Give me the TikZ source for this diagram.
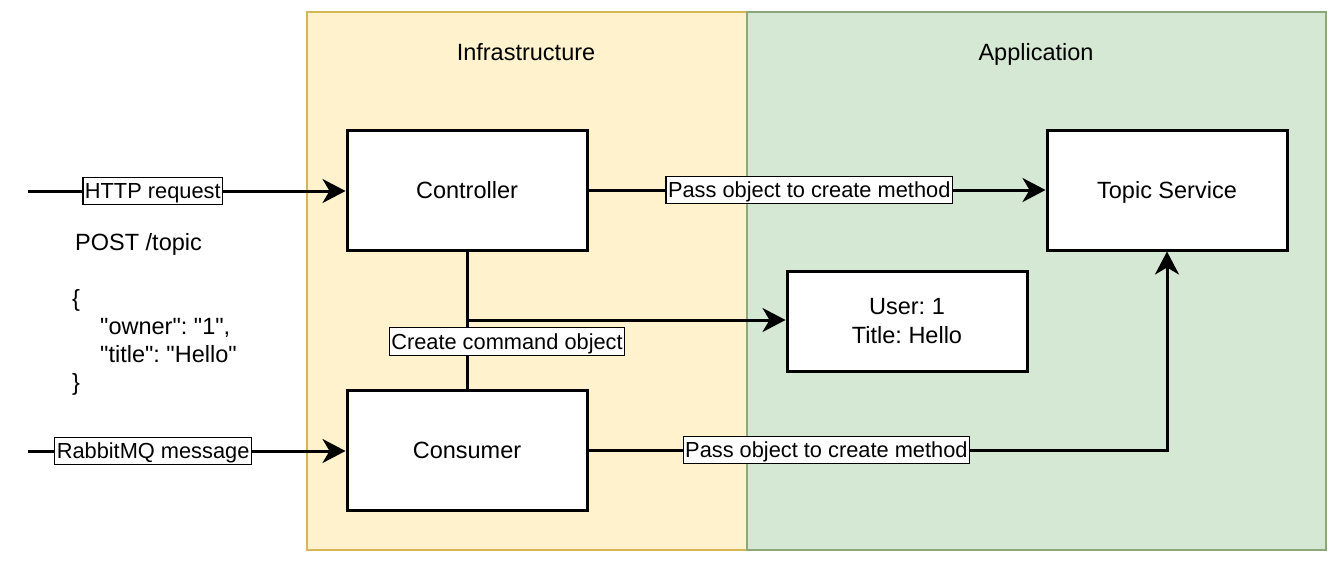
\documentclass[tikz,border=0pt]{standalone}
\usepackage{fontspec}
\setmainfont{Liberation Sans}
\newfontfamily\jsonfont{Liberation Sans}[Ligatures=TeXOff]
\usetikzlibrary{arrows.meta,calc}
\frenchspacing
\definecolor{infrafill}{HTML}{FFF2CC}
\definecolor{infradraw}{HTML}{D6B656}
\definecolor{appfill}{HTML}{D5E8D4}
\definecolor{appdraw}{HTML}{8BA87A}
\tikzset{
  mainfont/.style={font=\fontsize{23.5}{28}\selectfont},
  box/.style={draw=black, line width=3pt, fill=white, minimum width=240pt,
    minimum height=120pt, inner sep=0pt, mainfont, text height=16.8pt, text depth=0pt},
  ubox/.style={draw=black, line width=3pt, fill=white, minimum width=240pt,
    minimum height=100pt, inner sep=0pt, align=center, font=\fontsize{23.5}{29}\selectfont},
  lbl/.style={draw=black, line width=1.2pt, fill=white, inner xsep=2pt, inner ysep=1.5pt,
    font=\fontsize{21.8}{26}\selectfont, text height=20pt, text depth=4.7pt},
  region/.style={line width=1.5pt},
  title/.style={mainfont, inner sep=0pt, text height=16.8pt, text depth=0pt},
  txt/.style={font=\jsonfont\fontsize{23.5}{28}\selectfont, inner sep=0pt, anchor=base west},
  arr/.style={line width=3pt, -{Stealth[length=23pt,width=24pt,inset=7pt]}},
  conn/.style={line width=3pt}
}
\begin{document}
\begin{tikzpicture}[x=1pt,y=-1pt]
\useasboundingbox (0,0) rectangle (1338,562);
% regions
\draw[region, fill=infrafill, draw=infradraw] (307,12) rectangle (747,550);
\draw[region, fill=appfill, draw=appdraw] (747,12) rectangle (1326,550);
\node[title] (tinfra) at (526,52) {Infrastructure};
\node[title] (tapp) at (1036,52) {Application};
% boxes
\node[box] (ctrl) at (467,190) {Controller};
\node[box] (cons) at (467,450) {Consumer};
\node[box] (topic) at (1167,190) {Topic Service};
\node[ubox] (user) at (907,321) {User: 1\\Title: Hello};
% request body text
\node[txt] (post) at (75,250) {POST /topic};
\node[txt] (jopen) at (72,306) {\{};
\node[txt] (jowner) at (100,334) {"owner": "1",};
\node[txt] (jtitle) at (100,362) {"title": "Hello"};
\node[txt] (jclose) at (72,390) {\}};
% free ends
\coordinate (hin) at (28,191);
\coordinate (rin) at (28,451);
% connectors
\draw[arr] (hin) -- (hin -| ctrl.west) node[lbl, pos=0.393] (lhttp) {HTTP request};
\draw[arr] (rin) -- (rin -| cons.west) node[lbl, pos=0.394] (lrabbit) {RabbitMQ message};
\draw[arr] (ctrl.east) -- (topic.west) node[lbl, pos=0.483] (lpass1) {Pass object to create method};
\coordinate (mid) at ($(ctrl.south)!0.5!(cons.north)$);
\draw[conn] (ctrl.south) -- (cons.north) node[lbl, pos=0.657, xshift=40pt] (lcreate) {Create command object};
\draw[arr] (mid) -- (mid -| user.west);
\draw[arr] (cons.east) -| (topic.south) node[lbl, pos=0.2056] (lpass2) {Pass object to create method};
\end{tikzpicture}
\end{document}
